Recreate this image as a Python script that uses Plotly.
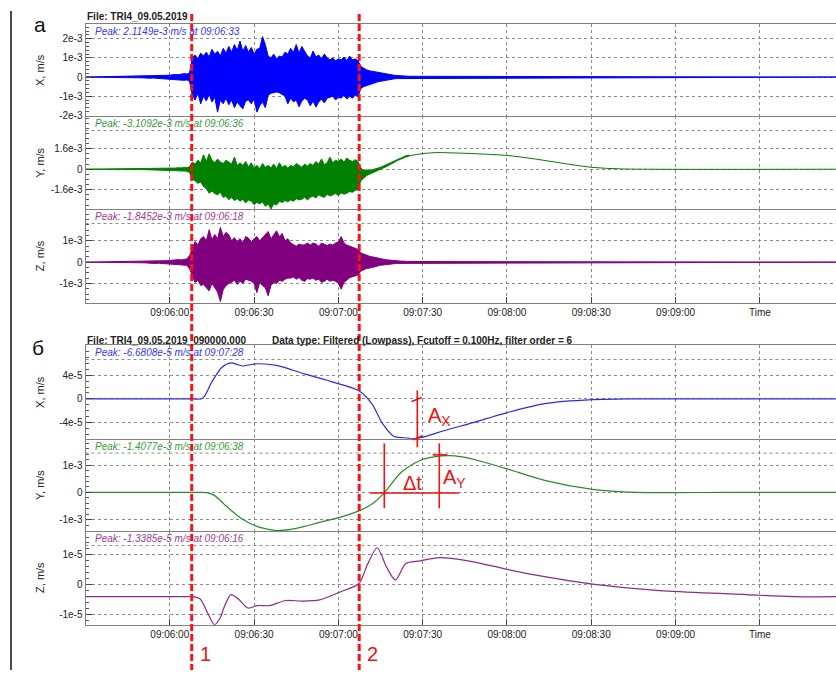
import plotly.graph_objects as go

W, H = 836, 675

# ---------------- data ----------------
# time is in seconds after 09:05:30
X_END = 267.1
TICK_T = [30, 60, 90, 120, 150, 180, 210, 240]
TICK_TEXT = ["09:06:00", "09:06:30", "09:07:00", "09:07:30", "09:08:00",
             "09:08:30", "09:09:00", "Time"]

# panel a: envelope of raw records, one max/min pair per second from t = 20 s (units 1e-3 m/s)
ENV_T0 = 20
X_HI = [0.04, 0.05, 0.04, 0.06, 0.05, 0.07, 0.06, 0.08, 0.07, 0.09,
        0.10, 0.12, 0.14, 0.12, 0.15, 0.18, 0.16, 0.20,
        1.00, 1.15, 0.95, 1.25, 1.10, 1.30, 1.05,
        1.45, 1.20, 1.35, 1.10, 1.50, 1.25,
        1.60, 1.30, 1.70, 1.40, 1.88, 1.35, 1.65,
        1.30, 1.55, 1.20, 1.45, 1.50, 2.11, 1.70,
        1.10, 1.00, 1.20, 0.95, 1.10, 1.05, 1.30,
        1.20, 1.50, 1.30, 1.70, 1.25, 1.60, 1.35,
        1.10, 1.00, 1.36, 1.05, 1.15, 0.95, 1.20, 1.00,
        0.90, 1.00, 0.85, 0.95, 0.90, 1.05, 0.85, 1.10, 0.90, 0.95, 0.85,
        0.55, 0.45, 0.38, 0.33, 0.30, 0.28,
        0.25, 0.22, 0.18, 0.16, 0.13, 0.11, 0.09, 0.08, 0.07, 0.06, 0.05, 0.04]
X_LO = [-0.04, -0.05, -0.05, -0.06, -0.05, -0.07, -0.06, -0.08, -0.07, -0.09,
        -0.10, -0.12, -0.13, -0.12, -0.16, -0.17, -0.15, -0.20,
        -0.95, -1.20, -0.85, -1.40, -1.00, -1.25, -0.90,
        -1.30, -1.05, -1.83, -1.20, -1.40, -1.10,
        -1.45, -1.20, -1.60, -1.30, -1.50, -1.66, -1.25,
        -1.20, -1.40, -1.15, -1.83, -1.50, -1.30, -1.60,
        -0.95, -0.85, -0.80, -0.78, -0.82, -0.90, -1.00,
        -1.40, -1.10, -1.30, -1.20, -1.55, -1.25, -1.10,
        -1.20, -1.50, -1.25, -1.57, -1.30, -1.15, -1.35, -1.10,
        -1.05, -1.00, -1.20, -1.05, -1.10, -0.95, -1.15, -1.00, -1.10, -0.95, -1.00,
        -0.60, -0.50, -0.45, -0.40, -0.35, -0.30,
        -0.25, -0.22, -0.18, -0.16, -0.13, -0.11, -0.09, -0.08, -0.07, -0.06, -0.05, -0.04]

Y_HI = [0.03, 0.04, 0.03, 0.05, 0.04, 0.05, 0.06, 0.05, 0.07, 0.06,
        0.08, 0.10, 0.09, 0.12, 0.10, 0.14, 0.12, 0.20,
        0.56, 0.40, 0.70, 0.50, 1.13, 0.60, 1.20,
        0.70, 0.50, 0.80, 0.56, 0.45, 0.70, 0.56,
        0.40, 0.95, 0.30, 0.50, 0.30, 0.60, 0.18,
        0.50, 0.10, 0.30, 0.05, 0.45, 0.15, 0.30,
        0.10, 0.40, 0.05, 0.50, 0.15, 0.30, 0.10,
        0.30, 0.20, 0.45, 0.30, 0.15, 0.40, 0.25,
        0.44, 0.30, 0.60, 0.40, 0.80, 0.35, 0.50,
        0.95, 0.50, 0.70, 0.60, 0.80, 0.55, 0.87, 0.70, 0.60, 0.75, 0.60,
        0.10, -0.10, -0.05, -0.10, -0.05, 0.00,
        0.10, 0.15, 0.25, 0.35, 0.45, 0.55, 0.70, 0.80, 0.90, 1.00, 1.05, 1.10]
Y_LO = [-0.03, -0.04, -0.04, -0.05, -0.04, -0.06, -0.05, -0.06, -0.07, -0.06,
        -0.08, -0.10, -0.10, -0.12, -0.13, -0.14, -0.15, -0.25,
        -0.72, -0.90, -1.10, -1.00, -1.36, -1.50, -1.87,
        -1.70, -1.90, -2.00, -1.80, -2.20, -2.10, -2.38,
        -2.20, -2.45, -2.30, -2.50, -2.35, -2.64, -2.40,
        -2.50, -2.77, -2.60, -2.70, -2.55, -2.90, -2.70,
        -3.11, -2.70, -2.80, -2.50, -2.60, -2.45, -2.55,
        -2.40, -2.50, -2.30, -2.40, -2.35, -2.20, -2.40,
        -2.20, -2.10, -2.25, -2.00, -2.13, -2.20, -1.95,
        -2.10, -2.00, -1.90, -2.05, -1.85, -1.95, -1.87, -1.75, -1.80, -1.65, -1.60,
        -0.90, -0.70, -0.50, -0.40, -0.30, -0.20,
        -0.05, 0.00, 0.10, 0.20, 0.32, 0.42, 0.55, 0.68, 0.78, 0.88, 0.95, 1.00]
Y_TAIL_T = [115, 120, 125, 130, 140, 150, 160, 170, 180, 190, 200, X_END]
Y_TAIL_V = [1.05, 1.22, 1.30, 1.28, 1.20, 1.08, 0.80, 0.46, 0.15, 0.03, 0.00, 0.00]

Z_HI = [0.03, 0.04, 0.03, 0.05, 0.04, 0.05, 0.04, 0.06, 0.05, 0.07,
        0.08, 0.10, 0.09, 0.12, 0.10, 0.13, 0.15, 0.30,
        0.60, 0.97, 0.80, 1.10, 1.20, 1.00, 1.52,
        1.05, 1.30, 1.10, 1.63, 1.20, 1.40, 1.29,
        1.00, 1.15, 0.97, 1.10, 0.90, 1.20, 1.13,
        0.95, 1.10, 1.20, 1.00, 1.15, 1.25, 1.44,
        1.10, 1.30, 1.47, 1.20, 1.35, 1.00, 1.10,
        0.90, 0.82, 0.75, 0.85, 0.80, 0.82, 0.90,
        0.80, 0.90, 0.85, 0.75, 0.90, 0.82, 0.78,
        0.85, 0.80, 0.90, 0.95, 1.20, 0.90, 0.80, 0.74, 0.70, 0.65, 0.60,
        0.43, 0.38, 0.32, 0.28, 0.25, 0.22,
        0.18, 0.15, 0.13, 0.11, 0.10, 0.08, 0.07, 0.06, 0.05, 0.05, 0.04, 0.03]
Z_LO = [-0.03, -0.04, -0.04, -0.05, -0.04, -0.06, -0.05, -0.06, -0.05, -0.07,
        -0.08, -0.10, -0.10, -0.12, -0.10, -0.14, -0.15, -0.30,
        -0.60, -0.96, -0.85, -1.10, -1.05, -1.20, -1.35,
        -1.00, -1.20, -1.40, -1.85, -1.30, -1.10, -1.00,
        -0.95, -0.85, -1.05, -0.89, -1.00, -0.80, -0.85,
        -0.90, -1.00, -1.43, -0.95, -1.10, -1.20, -1.58,
        -1.10, -0.95, -1.00, -0.85, -0.90, -0.80, -0.75,
        -0.75, -0.70, -0.80, -0.72, -0.85, -0.90, -0.78,
        -0.80, -0.75, -0.85, -0.80, -0.95, -0.90, -0.80,
        -0.90, -0.85, -0.90, -1.00, -1.27, -0.95, -0.85, -0.73, -0.70, -0.65, -0.60,
        -0.42, -0.36, -0.30, -0.28, -0.25, -0.20,
        -0.18, -0.15, -0.13, -0.11, -0.10, -0.08, -0.07, -0.06, -0.05, -0.05, -0.04, -0.03]

# panel б: low-pass filtered records
BX_T = [0, 20, 38, 41.6, 45, 48.5, 51.8, 54, 56, 58.5, 61.2, 68, 78.2, 88.4, 97.3, 102.1,
        105.5, 109.7, 113, 117.4, 122, 127.6, 137.9, 149.8, 163.4, 180.5, 195, 230, X_END]
BX_V = [0, 0, 0, 0.05, 2.89, 5.3, 6.08, 5.8, 5.54, 5.75, 5.92, 5.65, 4.16, 2.78, 1.35, -0.96,
        -4.0, -6.3, -6.55, -6.68, -6.2, -5.37, -4.0, -2.35, -0.8, -0.13, 0, 0, 0]      # 1e-5 m/s
BY_T = [0, 20, 40, 43.2, 46, 49.3, 52.5, 56, 61, 66.3, 68, 73.1, 78, 83.3, 90.1, 97.3, 102,
        106.3, 112.3, 119.1, 124, 129.4, 134, 139.6, 149.8, 163.4, 180.5, 196, 230, X_END]
BY_V = [0, 0, 0, -0.01, -0.12, -0.43, -0.72, -1.0, -1.25, -1.38, -1.40, -1.36, -1.25, -1.1, -0.93,
        -0.68, -0.43, -0.02, 0.73, 1.17, 1.3, 1.35, 1.3, 1.17, 0.87, 0.44, 0.11, 0, 0, 0]  # 1e-3 m/s
BZ_T = [0, 20, 35, 38.2, 40.8, 43.5, 45.9, 48, 49.3, 51.8, 54.4, 57.8, 61.2, 65.5, 71.4, 77,
        83.3, 90.1, 97.3, 100.4, 103.8, 107.2, 110.3, 114, 119.1, 126, 136.2, 149.8,
        163.4, 180.5, 204.3, 230, 252, X_END]
BZ_V = [-0.4, -0.4, -0.4, -0.4, -0.48, -0.95, -1.34, -1.1, -0.76, -0.33, -0.48, -0.78, -0.7, -0.7,
        -0.53, -0.55, -0.51, -0.26, 0.04, 0.69, 1.24, 0.58, 0.16, 0.71, 0.8, 0.91, 0.8,
        0.52, 0.27, 0.02, -0.2, -0.31, -0.4, -0.4]                                   # 1e-5 m/s

LINE1_T, LINE2_T = 37.8, 97.4

PEAKS = ["Peak: 2.1149e-3 m/s at 09:06:33", "Peak: -3.1092e-3 m/s at 09:06:36",
         "Peak: -1.8452e-3 m/s at 09:06:18", "Peak: -6.6808e-5 m/s at 09:07:28",
         "Peak: -1.4077e-3 m/s at 09:06:38", "Peak: -1.3385e-5 m/s at 09:06:16"]
YTITLES = ["X, m/s", "Y, m/s", "Z, m/s", "X, m/s", "Y, m/s", "Z, m/s"]
YRANGES = [(-2.04e-3, 2.78e-3), (-3.12e-3, 4.15e-3), (-1.93e-3, 2.49e-3),
           (-6.72e-5, 9.06e-5), (-1.42e-3, 1.97e-3), (-1.345e-5, 1.8e-5)]
YTICKS = [[-2e-3, -1e-3, 0, 1e-3, 2e-3], [-1.6e-3, 0, 1.6e-3], [-1e-3, 0, 1e-3],
          [-4e-5, 0, 4e-5], [-1e-3, 0, 1e-3], [-1e-5, 0, 1e-5]]
YTICKTEXT = [["-2e-3", "-1e-3", "0", "1e-3", "2e-3"], ["-1.6e-3", "0", "1.6e-3"],
             ["-1e-3", "0", "1e-3"], ["-4e-5", "0", "4e-5"], ["-1e-3", "0", "1e-3"],
             ["-1e-5", "0", "1e-5"]]
YMINOR = [0.2e-3, 0.4e-3, 0.25e-3, 1e-5, 0.2e-3, 0.2e-5]
COLORS = ["#0000ff", "#008000", "#800080", "#2b2bf0", "#2a8c2a", "#8c2a8c"]
PEAK_COLORS = ["#3535ff", "#3c9a3c", "#9a3c9a", "#3535ff", "#3c9a3c", "#9a3c9a"]

# ---------------- layout geometry (pixels) ----------------
ROWS_PX = [(24, 117), (117, 210.7), (210.7, 305.5), (347.7, 442), (442, 535), (535, 629.5)]
LEFT_PX = 85.5


def px(x):
    return x / W


def py(y):
    return 1 - y / H


def band(t0, hi, lo, scale, closed_end):
    """Polygon through the per-second maxima and back through the minima."""
    t = [t0 + i for i in range(len(hi))]
    xs = [0.0] + t
    ys = [0.0] + [h * scale for h in hi]
    if closed_end:
        xs.append(X_END)
        ys.append(0.0)
    xs += t[::-1] + [0.0]
    ys += [l * scale for l in lo[::-1]] + [0.0]
    return xs, ys


fig = go.Figure()
ax = ["", "2", "3", "4", "5", "6"]

# panel a
for k, (hi, lo, closed) in enumerate([(X_HI, X_LO, True), (Y_HI, Y_LO, False), (Z_HI, Z_LO, True)]):
    xs, ys = band(ENV_T0, hi, lo, 1e-3, closed)
    fig.add_trace(go.Scatter(x=xs, y=ys, mode="lines", fill="toself", fillcolor=COLORS[k],
                             line=dict(color=COLORS[k], width=1),
                             xaxis="x" + ax[k], yaxis="y" + ax[k], hoverinfo="skip"))
fig.add_trace(go.Scatter(x=Y_TAIL_T, y=[v * 1e-3 for v in Y_TAIL_V], mode="lines",
                         line=dict(color=COLORS[1], width=1, shape="spline", smoothing=1.0),
                         xaxis="x2", yaxis="y2", hoverinfo="skip"))

# panel б
for k, (tt, vv, sc) in enumerate([(BX_T, BX_V, 1e-5), (BY_T, BY_V, 1e-3), (BZ_T, BZ_V, 1e-5)]):
    fig.add_trace(go.Scatter(x=tt, y=[v * sc for v in vv], mode="lines",
                             line=dict(color=COLORS[3 + k], width=1.2, shape="spline", smoothing=0.8),
                             xaxis="x" + ax[3 + k], yaxis="y" + ax[3 + k], hoverinfo="skip"))

FONT = "Liberation Sans, Arial, sans-serif"
layout = dict(width=W, height=H, margin=dict(l=0, r=0, t=0, b=0),
              paper_bgcolor="white", plot_bgcolor="white", showlegend=False,
              font=dict(family=FONT, size=10, color="#222"))

for i in range(6):
    top, bot = ROWS_PX[i]
    show_x = i in (2, 5)
    layout["xaxis" + ax[i]] = dict(
        domain=[px(LEFT_PX), 1], range=[0, X_END], anchor="y" + ax[i],
        tickmode="array", tickvals=TICK_T, ticktext=TICK_TEXT,
        showticklabels=show_x, ticks="inside" if show_x else "", ticklen=6,
        tickcolor="#444", tickfont=dict(size=10, family=FONT, color="#222"),
        showgrid=True, gridcolor="#8a8a8a", griddash="dot", gridwidth=1,
        showline=True, linecolor="#808080", linewidth=1, mirror=(i in (0, 3)), zeroline=False)
    layout["yaxis" + ax[i]] = dict(
        domain=[py(bot), py(top)], range=list(YRANGES[i]), anchor="x" + ax[i],
        tickmode="array", tickvals=YTICKS[i], ticktext=YTICKTEXT[i],
        ticks="inside", ticklen=6, tickcolor="#444",
        minor=dict(ticks="inside", ticklen=3, tickcolor="#555", tick0=0, dtick=YMINOR[i], showgrid=False),
        tickfont=dict(size=10, family=FONT, color="#222"),
        showgrid=True, gridcolor="#8a8a8a", griddash="dot", gridwidth=1,
        showline=True, linecolor="#808080", linewidth=1, zeroline=False)


def note(x, y, text, size, color, xanchor="center", angle=0):
    return dict(xref="paper", yref="paper", x=px(x), y=py(y), text=text, showarrow=False,
                xanchor=xanchor, yanchor="middle", textangle=angle,
                font=dict(size=size, color=color, family=FONT))


ann = []
shapes = []
for i in range(6):
    top, bot = ROWS_PX[i]
    ann.append(note(93, top + 7.5, "<i>" + PEAKS[i] + "</i>", 10, PEAK_COLORS[i], "left"))
    ann.append(note(40, (top + bot) / 2, YTITLES[i], 11, "#222", "center", -90))
    if i != 0:
        shapes.append(dict(type="line", xref="paper", yref="paper", x0=px(LEFT_PX), x1=1,
                           y0=py(top + 14.5), y1=py(top + 14.5),
                           line=dict(color="#8a8a8a", width=1, dash="dot")))

RED = "#ee1111"
ann += [
    note(85, 17, "<b>File: TRI4_09.05.2019</b>", 10, "#222", "left"),
    note(85, 343, "<b>File: TRI4_09.05.2019_090000.000</b>", 10, "#222", "left"),
    note(270, 343, "<b>Data type: Filtered (Lowpass), Fcutoff = 0.100Hz, filter order = 6</b>", 10, "#222", "left"),
    note(40, 25, "а", 21, "#111"),
    note(38, 350, "б", 21, "#111"),
    note(205, 659, "1", 20, RED),
    note(372, 659, "2", 20, RED),
    note(426, 420, "A<sub>X</sub>", 20, RED, "left"),
    note(441, 482, "A<sub>Y</sub>", 20, RED, "left"),
    note(412, 487, "Δt", 20, RED),
]

# left frame line
shapes.append(dict(type="line", xref="paper", yref="paper", x0=px(11), x1=px(11), y0=py(11), y1=0,
                   line=dict(color="#111", width=1.5)))
# event markers
for t in (LINE1_T, LINE2_T):
    shapes.append(dict(type="line", xref="x", yref="paper", x0=t, x1=t, y0=py(14), y1=0,
                       line=dict(color="#ff1010", width=3, dash="7px,3px"), layer="above"))
# measurement marks on panel б
for (x0, y0, x1, y1) in [(417.3, 393.3, 417.3, 450.7), (411.7, 404.5, 421.7, 400.5),
                         (412.7, 443, 422.7, 439), (384.3, 446.7, 384.3, 512), (370, 496.7, 459, 496.7),
                         (439.3, 446.7, 439.3, 512), (432.7, 458.3, 447.3, 458.3)]:
    shapes.append(dict(type="line", xref="paper", yref="paper", x0=px(x0), x1=px(x1),
                       y0=py(y0), y1=py(y1), line=dict(color=RED, width=1.6), layer="above"))

layout["annotations"] = ann
layout["shapes"] = shapes
fig.update_layout(**layout)
fig.write_html("out.html", config={"displayModeBar": False},
               post_script="document.body.style.margin='0px';")
